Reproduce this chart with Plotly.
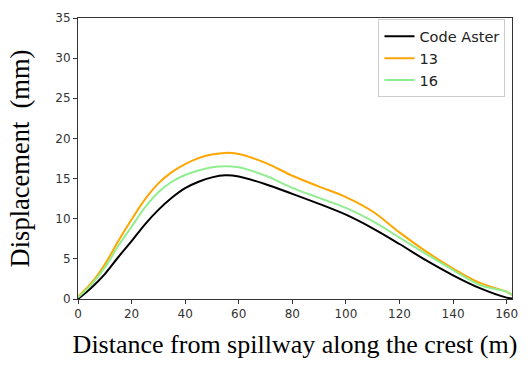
import plotly.graph_objects as go

# Distance along the crest (m) and displacement (mm) for each model
x_aster = [0, 5, 10, 15, 20, 25, 30, 35, 40, 45, 50, 55, 60, 70, 80, 90, 100, 110, 120,
           130, 140, 150, 160, 162]
y_aster = [0, 1.4, 3.1, 5.2, 7.2, 9.3, 11.1, 12.6, 13.8, 14.6, 15.15, 15.4, 15.25, 14.3,
           13.1, 11.85, 10.5, 8.8, 6.85, 4.8, 2.95, 1.35, 0.17, 0.05]

x_13 = [0, 5, 10, 15, 20, 25, 30, 35, 40, 45, 50, 55, 60, 70, 80, 90, 100, 110, 120,
        130, 140, 150, 160, 162]
y_13 = [0.3, 2.0, 4.3, 7.2, 9.9, 12.4, 14.4, 15.8, 16.8, 17.55, 18.0, 18.2, 18.05, 16.95,
        15.35, 14.0, 12.7, 10.9, 8.3, 5.9, 3.8, 2.0, 0.9, 0.5]

x_16 = [0, 5, 10, 15, 20, 25, 30, 35, 40, 45, 50, 55, 60, 70, 80, 90, 100, 110, 120,
        130, 140, 150, 155, 160, 162]
y_16 = [0.2, 1.8, 3.9, 6.6, 9.0, 11.4, 13.3, 14.6, 15.45, 16.0, 16.4, 16.55, 16.4, 15.35,
        13.85, 12.6, 11.35, 9.7, 7.65, 5.6, 3.6, 1.75, 1.3, 0.9, 0.5]

x_ticks = [0, 20, 40, 60, 80, 100, 120, 140, 160]
y_ticks = [0, 5, 10, 15, 20, 25, 30, 35]

series = [
    ("Code Aster", x_aster, y_aster, "#000000"),
    ("13", x_13, y_13, "#FFA500"),
    ("16", x_16, y_16, "#90EE90"),
]

fig = go.Figure()
for name, xs, ys, color in series:
    fig.add_trace(go.Scatter(
        x=xs, y=ys, name=name, mode="lines",
        line=dict(color=color, width=2, shape="spline", smoothing=1.0),
    ))

axis_common = dict(
    showline=True, linecolor="#333333", linewidth=1, mirror=True,
    ticks="outside", ticklen=4, tickcolor="#333333", showgrid=False, zeroline=False,
    tickfont=dict(family="DejaVu Sans", size=12, color="#333333"),
)

fig.update_layout(
    width=529, height=365,
    margin=dict(l=78, r=11, t=16, b=64),
    plot_bgcolor="white", paper_bgcolor="white",
    xaxis=dict(
        range=[0, 162], tickvals=x_ticks,
        title=dict(text="Distance from spillway along the crest (m)",
                   font=dict(family="Liberation Serif", size=26, color="#000000"),
                   standoff=14),
        **axis_common,
    ),
    yaxis=dict(
        range=[0, 35], tickvals=y_ticks,
        title=dict(text="Displacement\u00a0\u00a0(mm)",
                   font=dict(family="Liberation Serif", size=26.5, color="#000000"),
                   standoff=18),
        **axis_common,
    ),
    legend=dict(
        x=0.985, y=0.995, xanchor="right", yanchor="top",
        bgcolor="white", bordercolor="#cccccc", borderwidth=1,
        font=dict(family="DejaVu Sans", size=14.5, color="#222222"),
        tracegroupgap=0, itemwidth=30,
    ),
    showlegend=True,
)

fig.write_html("out.html")
